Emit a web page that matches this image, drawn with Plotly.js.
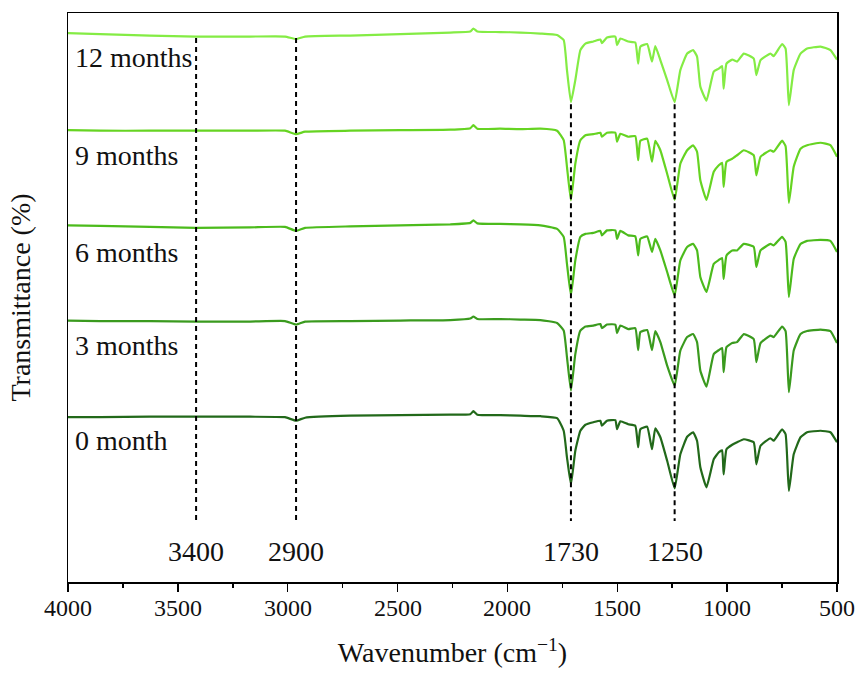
<!DOCTYPE html>
<html>
<head>
<meta charset="utf-8">
<script src="https://cdn.plot.ly/plotly-3.0.1.min.js"></script>
<style>html,body{margin:0;padding:0;background:#fff;}#chart{width:858px;height:673px;}</style>
</head>
<body>
<div id="chart"></div>
<script>
// Wavenumber grid (cm^-1), shared by all spectra
const wavenumber = [4000,3854,3627,3417,3171,3012,2962,2921,2716,2488,2260,2169,2155,2137,2033,1941,1850,1774,1744,1729,1711,1691,1668,1645,1609,1577,1570,1547,1509,1501,1486,1450,1418,1405,1395,1364,1342,1327,1304,1273,1239,1213,1182,1155,1137,1122,1094,1061,1038,1023,1016,1003,977,955,924,879,867,848,803,788,750,734,719,697,666,636,575,530,500];

// Stacked transmittance values (offset spectra)
const t12 = [109.6,109.4,109.1,108.9,108.9,108.9,108.4,108.9,109.1,109.4,109.7,109.9,110.5,109.9,109.8,109.7,109.5,109.2,108.2,102.2,95.8,100.2,106.2,107.5,107.9,108.3,107.6,108.7,108.9,107.2,108.5,107.9,107.7,103.5,106.9,107.4,103.9,107.0,104.2,100.2,95.8,102.2,105.5,106.2,104.9,98.9,96.1,101.9,102.5,103.0,98.5,103.5,104.3,103.9,105.5,104.5,101.2,104.2,105.5,105.0,107.4,106.5,95.2,102.2,105.5,106.5,106.9,106.2,104.3];
const t9 = [90.2,90.1,90.1,90.1,90.1,90.1,89.4,89.9,90.1,90.2,90.3,90.6,91.2,90.5,90.5,90.4,90.5,90.1,88.2,82.9,76.2,83.5,88.2,89.2,89.4,89.7,88.9,89.7,89.7,87.9,89.5,88.9,89.0,84.2,88.1,88.5,83.9,88.1,86.2,81.5,76.3,83.5,86.2,87.2,85.9,80.2,76.3,81.9,83.2,83.7,78.9,83.9,84.5,85.2,86.2,85.2,81.2,84.9,86.2,85.9,88.1,87.0,75.7,82.9,86.5,87.2,87.7,87.2,84.9];
const t6 = [71.2,71.1,70.9,70.7,70.8,70.9,70.1,70.7,71.0,71.2,71.4,71.7,72.2,71.6,71.5,71.4,71.2,70.5,68.9,63.5,57.2,64.2,68.9,69.5,69.7,70.1,69.2,70.2,70.2,68.5,70.1,69.2,69.0,65.2,68.5,69.0,65.9,68.5,66.2,61.9,57.2,64.2,66.9,67.5,66.2,60.9,57.9,63.5,64.3,64.7,60.5,65.2,66.2,66.2,67.5,66.9,62.9,66.2,67.5,67.2,68.9,67.9,56.9,64.5,67.5,68.1,68.3,68.1,65.9];
const t3 = [52.2,52.1,52.1,52.0,52.0,52.1,51.4,52.0,52.1,52.2,52.3,52.6,53.0,52.5,52.5,52.4,52.3,51.7,50.2,44.9,38.2,45.5,50.2,51.0,51.2,51.5,50.7,51.4,51.4,49.7,51.2,50.5,50.7,46.3,49.9,50.3,46.3,50.1,47.9,43.2,39.2,46.2,48.9,49.5,47.9,42.2,39.0,45.5,46.3,46.7,41.9,46.9,47.7,47.9,49.5,48.5,43.9,47.7,49.2,48.9,51.0,50.1,37.9,46.2,49.5,50.1,50.4,50.1,47.7];
const t0 = [32.9,32.9,33.0,33.0,33.0,32.9,32.2,32.8,33.2,33.3,33.4,33.5,34.1,33.4,33.3,33.2,33.1,32.7,30.2,24.9,19.5,26.2,30.2,31.4,31.9,32.2,31.2,32.2,32.3,30.5,32.1,31.5,31.2,26.9,30.5,31.0,26.5,30.7,28.9,24.2,18.7,25.5,29.0,29.9,28.2,22.9,18.9,24.5,25.9,26.3,21.5,26.5,27.4,27.9,28.5,27.9,23.5,27.2,28.7,28.2,30.5,29.5,18.2,25.5,28.9,29.9,30.2,29.9,27.9];

const seriesNames = ['0 month','3 months','6 months','9 months','12 months'];
const seriesValues = [t0, t3, t6, t9, t12];
const seriesColors = ['#22691a','#3a9a1e','#4cbb1c','#66d422','#84ec44'];
const labelY = [28.2, 47.2, 65.8, 85.2, 104.8];

// Marked bands: actual line positions, label text, top of each dashed line
const bandPos = [3417, 2962, 1711, 1239];
const bandLabels = ['3400', '2900', '1730', '1250'];
const bandTop = [108.6, 108.6, 95.4, 95.4];
const bandBottom = 12.2;
const bandLabelY = 6.0;

// X-axis ticks
const tickVals = [4000,3500,3000,2500,2000,1500,1000,500];
const tickLabels = ['4000','3500','3000','2500','2000','1500','1000','500'];
const minorTickVals = [3750,3250,2750,2250,1750,1250,750];

const font = 'Liberation Serif';
const traces = [];
for (let i = 0; i < seriesNames.length; i++) {
  traces.push({
    x: wavenumber, y: seriesValues[i], type: 'scatter', mode: 'lines',
    name: seriesNames[i], line: {color: seriesColors[i], width: 2.2, shape: 'spline', smoothing: 0.4}, hoverinfo: 'skip'
  });
}
for (let i = 0; i < bandPos.length; i++) {
  traces.push({
    x: [bandPos[i], bandPos[i]], y: [bandTop[i], bandBottom], type: 'scatter', mode: 'lines',
    line: {color: '#000', width: 2, dash: '5px,4px'}, showlegend: false, hoverinfo: 'skip'
  });
}

const annotations = [];
for (let i = 0; i < seriesNames.length; i++) {
  annotations.push({x: 3975, y: labelY[i], xref: 'x', yref: 'y', text: seriesNames[i],
    showarrow: false, xanchor: 'left', yanchor: 'middle', font: {family: font, size: 28, color: '#111'}});
}
for (let i = 0; i < bandPos.length; i++) {
  annotations.push({x: bandPos[i], y: bandLabelY, xref: 'x', yref: 'y', text: bandLabels[i],
    showarrow: false, xanchor: 'center', yanchor: 'middle', font: {family: font, size: 28, color: '#111'}});
}
// tick labels as text placed at the tick values
for (let i = 0; i < tickVals.length; i++) {
  annotations.push({x: tickVals[i], y: 0, xref: 'x', yref: 'paper', text: tickLabels[i],
    showarrow: false, xanchor: 'center', yanchor: 'middle', yshift: -26,
    font: {family: font, size: 24, color: '#111'}});
}

const layout = {
  width: 858, height: 673,
  margin: {l: 68, r: 21, t: 13, b: 91},
  paper_bgcolor: '#fff', plot_bgcolor: '#fff',
  showlegend: false,
  font: {family: font, color: '#111', size: 24},
  xaxis: {
    range: [4000, 500], autorange: false,
    tickmode: 'array', tickvals: tickVals, showticklabels: false,
    ticks: 'outside', ticklen: 8, tickwidth: 1.5, tickcolor: '#000',
    minor: {tickvals: minorTickVals, ticks: 'outside', ticklen: 4, tickwidth: 1.5, tickcolor: '#000'},
    showline: true, linecolor: '#000', linewidth: 1.5, mirror: true,
    showgrid: false, zeroline: false,
    title: {text: 'Wavenumber (cm<sup>\u22121</sup>)', font: {family: font, size: 28, color: '#111'}, standoff: 52}
  },
  yaxis: {
    range: [0, 113.6], autorange: false,
    showticklabels: false, ticks: '',
    showline: true, linecolor: '#000', linewidth: 1.5, mirror: true,
    showgrid: false, zeroline: false,
    title: {text: 'Transmittance (%)', font: {family: font, size: 28, color: '#111'}, standoff: 27}
  },
  annotations: annotations
};

Plotly.newPlot('chart', traces, layout, {staticPlot: true, displayModeBar: false});
</script>
</body>
</html>
